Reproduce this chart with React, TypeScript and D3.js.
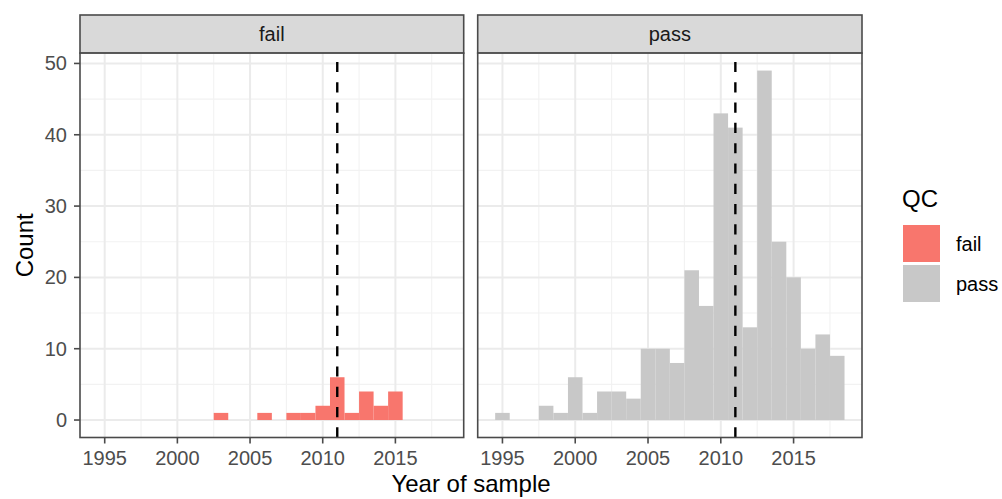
import React from "react";
import * as d3 from "d3";

// Histogram of samples by year, faceted by QC outcome
const years = d3.range(1995, 2019);
const failCounts = [0, 0, 0, 0, 0, 0, 0, 0, 1, 0, 0, 1, 0, 1, 1, 2, 6, 1, 4, 2, 4, 0, 0, 0];
const passCounts = [1, 0, 0, 2, 1, 6, 1, 4, 4, 3, 10, 10, 8, 21, 16, 43, 41, 13, 49, 25, 20, 10, 12, 9];
const xTicks = [1995, 2000, 2005, 2010, 2015];
const xMinor = [1997.5, 2002.5, 2007.5, 2012.5, 2017.5];
const yTicks = [0, 10, 20, 30, 40, 50];
const yMinor = [5, 15, 25, 35, 45];
const cutoffYear = 2011;
const qcLevels = ["fail", "pass"];
const qcColors = ["#F8766D", "#C8C8C8"];

const W = 1002;
const H = 499;
const FONT = "'Liberation Sans', Arial, Helvetica, sans-serif";

const panelTop = 53.1;
const panelBottom = 437.5;
const stripTop = 15;
const panels = [
  { level: "fail", counts: failCounts, color: qcColors[0], x0: 80, x1: 463.7 },
  { level: "pass", counts: passCounts, color: qcColors[1], x0: 477.7, x1: 862 },
];

const binWidth = 1;
const xLo = years[0] - binWidth / 2;
const xHi = years[years.length - 1] + binWidth / 2;
const xPad = (xHi - xLo) * 0.05;
const yMax = d3.max([...failCounts, ...passCounts]) as number;
const yPad = yMax * 0.05;

const y = d3.scaleLinear().domain([-yPad, yMax + yPad]).range([panelBottom, panelTop]);

function Panel({ p }: { p: (typeof panels)[number] }) {
  const x = d3.scaleLinear().domain([xLo - xPad, xHi + xPad]).range([p.x0, p.x1]);
  const cx = (p.x0 + p.x1) / 2;
  const bars = years
    .map((yr, i) => ({ yr, n: p.counts[i] }))
    .filter((d) => d.n > 0);
  return (
    <g>
      {/* strip */}
      <rect x={p.x0} y={stripTop} width={p.x1 - p.x0} height={panelTop - stripTop} fill="#D9D9D9" stroke="#4a4a4a" strokeWidth={1.6} />
      <text x={cx} y={41} textAnchor="middle" fontFamily={FONT} fontSize={20} fill="#1A1A1A">{p.level}</text>
      {/* panel background */}
      <rect x={p.x0} y={panelTop} width={p.x1 - p.x0} height={panelBottom - panelTop} fill="#fff" />
      {/* grid */}
      {yMinor.map((v) => (
        <line key={"ym" + v} x1={p.x0} x2={p.x1} y1={y(v)} y2={y(v)} stroke="#F2F2F2" strokeWidth={1.1} />
      ))}
      {xMinor.map((v) => (
        <line key={"xm" + v} x1={x(v)} x2={x(v)} y1={panelTop} y2={panelBottom} stroke="#F2F2F2" strokeWidth={1.1} />
      ))}
      {yTicks.map((v) => (
        <line key={"yM" + v} x1={p.x0} x2={p.x1} y1={y(v)} y2={y(v)} stroke="#EBEBEB" strokeWidth={2} />
      ))}
      {xTicks.map((v) => (
        <line key={"xM" + v} x1={x(v)} x2={x(v)} y1={panelTop} y2={panelBottom} stroke="#EBEBEB" strokeWidth={2} />
      ))}
      {/* bars */}
      {bars.map((d) => (
        <rect
          key={d.yr}
          x={x(d.yr - binWidth / 2)}
          width={x(d.yr + binWidth / 2) - x(d.yr - binWidth / 2)}
          y={y(d.n)}
          height={y(0) - y(d.n)}
          fill={p.color}
        />
      ))}
      {/* cutoff line */}
      <line
        x1={x(cutoffYear)}
        x2={x(cutoffYear)}
        y1={panelBottom}
        y2={panelTop}
        stroke="#000"
        strokeWidth={2.4}
        strokeDasharray="10.15 10.15"
      />
      {/* border */}
      <rect x={p.x0} y={panelTop} width={p.x1 - p.x0} height={panelBottom - panelTop} fill="none" stroke="#4a4a4a" strokeWidth={1.6} />
      {/* x axis */}
      {xTicks.map((v) => (
        <g key={"xt" + v}>
          <line x1={x(v)} x2={x(v)} y1={panelBottom} y2={panelBottom + 6} stroke="#4a4a4a" strokeWidth={1.6} />
          <text x={x(v)} y={465} textAnchor="middle" fontFamily={FONT} fontSize={20} fill="#4D4D4D">{v}</text>
        </g>
      ))}
    </g>
  );
}

export default function App() {
  const yAxisX = panels[0].x0;
  return (
    <svg width={W} height={H} style={{ position: "absolute", left: 0, top: 0, background: "#fff" }}>
      <rect x={0} y={0} width={W} height={H} fill="#fff" />
      {panels.map((p) => (
        <Panel key={p.level} p={p} />
      ))}
      {/* y axis */}
      {yTicks.map((v) => (
        <g key={"yt" + v}>
          <line x1={yAxisX - 6} x2={yAxisX} y1={y(v)} y2={y(v)} stroke="#4a4a4a" strokeWidth={1.6} />
          <text x={67} y={y(v)} dy="0.35em" textAnchor="end" fontFamily={FONT} fontSize={20} fill="#4D4D4D">{v}</text>
        </g>
      ))}
      <text
        transform={`translate(33, ${(panelTop + panelBottom) / 2}) rotate(-90)`}
        textAnchor="middle"
        fontFamily={FONT}
        fontSize={24}
        fill="#000"
      >
        Count
      </text>
      <text x={(panels[0].x0 + panels[1].x1) / 2} y={491.5} textAnchor="middle" fontFamily={FONT} fontSize={24} fill="#000">
        Year of sample
      </text>
      {/* legend */}
      <text x={902} y={207} fontFamily={FONT} fontSize={24} fill="#000">QC</text>
      {qcLevels.map((lv, i) => (
        <g key={lv}>
          <rect x={903} y={225 + i * 40} width={37} height={37} fill={qcColors[i]} />
          <text x={956} y={225 + i * 40 + 18.5} dy="0.35em" fontFamily={FONT} fontSize={20} fill="#000">{lv}</text>
        </g>
      ))}
    </svg>
  );
}
